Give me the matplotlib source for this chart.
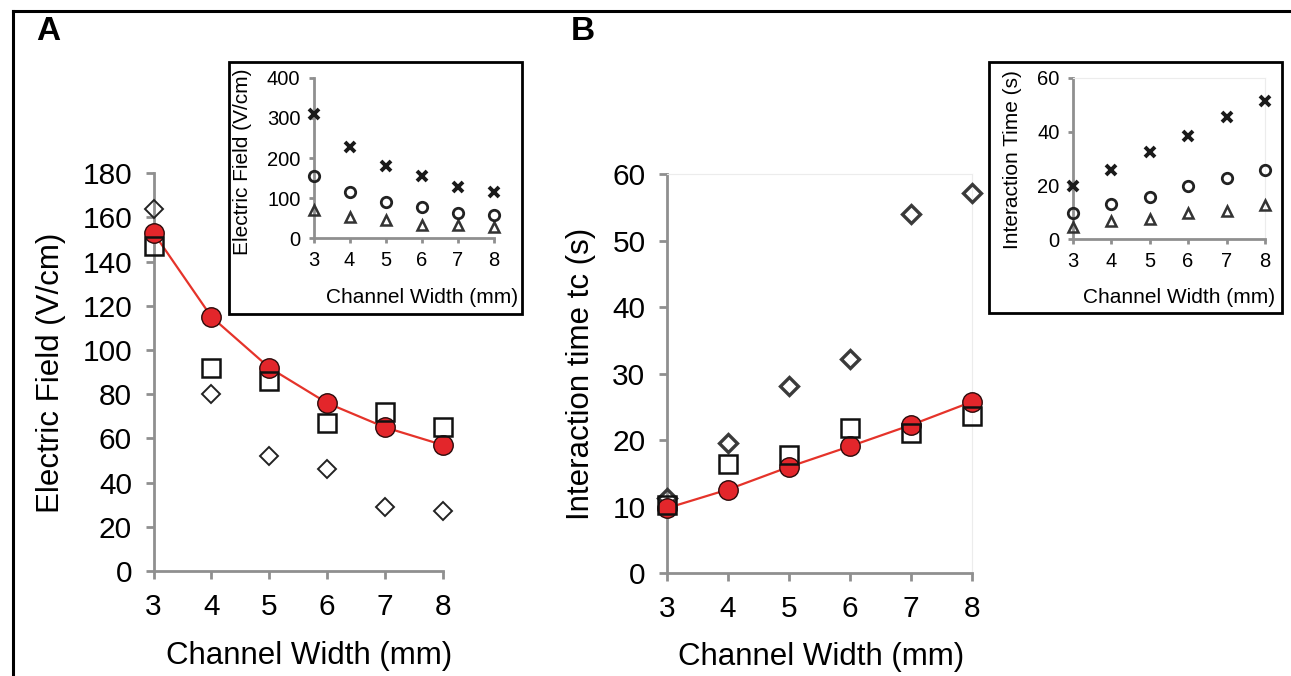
import matplotlib.pyplot as plt
from matplotlib.patches import Rectangle
from matplotlib.lines import Line2D

plt.rcParams['font.family'] = ['Liberation Sans', 'DejaVu Sans']

W, H = 1291, 676

widths = [3, 4, 5, 6, 7, 8]

# A: electric field (V/cm) vs channel width
field_model = [153, 115, 92, 76, 65, 57]
field_square = [147, 92, 86, 67, 72, 65]
field_diamond = [164, 80, 52, 46, 29, 27]

# A inset
field_cross = [309, 228, 181, 155, 127, 116]
field_circle = [155, 116, 90, 77, 64, 58]
field_triangle = [71, 52, 46, 33, 33, 28]

# B: interaction time (s) vs channel width
time_model = [9.8, 12.6, 16.0, 19.1, 22.3, 25.8]
time_square = [10.3, 16.4, 17.8, 21.9, 21.1, 23.6]
time_diamond = [11.3, 19.6, 28.1, 32.3, 54.0, 57.2]

# B inset
time_cross = [19.8, 25.7, 32.5, 38.4, 45.3, 51.5]
time_circle = [9.7, 13.1, 15.8, 19.8, 22.9, 25.7]
time_triangle = [4.5, 6.8, 7.5, 9.7, 10.5, 12.7]

GREY = '#8f8f8f'
RED = '#e3262b'


def fx(x):
    return x / W


def fy(y):
    return 1 - y / H


def axes_px(fig, x0, x1, y_top, y_bot):
    return fig.add_axes([fx(x0), fy(y_bot), fx(x1) - fx(x0), fy(y_top) - fy(y_bot)])


def style(ax, yticks, size, tick_len, pad, faint_frame=False):
    for s in ['top', 'right']:
        if faint_frame:
            ax.spines[s].set_color('#ececec')
            ax.spines[s].set_linewidth(0.8)
        else:
            ax.spines[s].set_visible(False)
    for s in ['left', 'bottom']:
        ax.spines[s].set_color(GREY)
        ax.spines[s].set_linewidth(2)
    ax.set_xlim(3, 8)
    ax.set_xticks(widths)
    ax.set_ylim(yticks[0], yticks[-1])
    ax.set_yticks(yticks)
    ax.tick_params(direction='out', length=tick_len, width=2, color=GREY,
                   labelsize=size, pad=pad, top=False, right=False)
    ax.patch.set_alpha(0)


def main_series(ax, model, square, diamond, dia_edge, dia_mew):
    ax.plot(widths, diamond, 'D', ms=9.5, mfc='none', mec=dia_edge, mew=dia_mew,
            clip_on=False, zorder=3)
    ax.plot(widths, model, '-', color='#e5332a', lw=1.6, clip_on=False, zorder=4)
    ax.plot(widths, model, 'o', ms=14, mfc=RED, mec='#2b0a0a', mew=1,
            clip_on=False, zorder=5)
    ax.plot(widths, square, 's', ms=13.5, mfc='none', mec='#111111', mew=1.8,
            clip_on=False, zorder=6)


def inset_series(ax, cross, circle, triangle):
    ax.plot(widths, triangle, '^', ms=7, mfc='none', mec='#333333', mew=1.8,
            clip_on=False, zorder=3)
    ax.plot(widths, circle, 'o', ms=7.5, mfc='none', mec='#222222', mew=2,
            clip_on=False, zorder=4)
    ax.plot(widths, cross, 'x', ms=7.5, mec='#1a1a1a', mew=2.8,
            clip_on=False, zorder=5)


fig = plt.figure(figsize=(W / 100, H / 100), dpi=100)

# outer frame (top and left edges)
fig.add_artist(Line2D([fx(12.5), fx(1291)], [fy(11), fy(11)], color='k', lw=2.2,
                      transform=fig.transFigure))
fig.add_artist(Line2D([fx(12.5), fx(12.5)], [fy(11), fy(676)], color='k', lw=2.2,
                      transform=fig.transFigure))

# panel A
axA = axes_px(fig, 153.6, 443, 173.3, 571)
style(axA, list(range(0, 181, 20)), 21.5, 5.5, 10)
main_series(axA, field_model, field_square, field_diamond, '#222222', 1.4)
fig.text(fx(51), fy(373), 'Electric Field (V/cm)', fontsize=22.5, rotation=90,
         ha='center', va='center')
fig.text(fx(309), fy(656), 'Channel Width (mm)', fontsize=22.5, ha='center', va='center')
fig.text(fx(48.5), fy(32), 'A', fontsize=24, fontweight='bold', ha='center', va='center')

# panel A inset
fig.add_artist(Rectangle((fx(229), fy(314)), fx(522) - fx(229), fy(62) - fy(314),
                         fill=False, ec='k', lw=2, transform=fig.transFigure))
axA_in = axes_px(fig, 313.6, 493.6, 77.7, 238.3)
style(axA_in, [0, 100, 200, 300, 400], 14.5, 3.5, 6)
inset_series(axA_in, field_cross, field_circle, field_triangle)
fig.text(fx(242), fy(162), 'Electric Field (V/cm)', fontsize=15, rotation=90,
         ha='center', va='center')
fig.text(fx(518), fy(298), 'Channel Width (mm)', fontsize=15, ha='right', va='center')

# panel B
axB = axes_px(fig, 667, 972, 174.3, 573.3)
style(axB, list(range(0, 61, 10)), 21.5, 5.5, 10, faint_frame=True)
main_series(axB, time_model, time_square, time_diamond, '#3a3a3a', 2.4)
fig.text(fx(581), fy(374), 'Interaction time tc (s)', fontsize=22.5, rotation=90,
         ha='center', va='center')
fig.text(fx(821), fy(656.5), 'Channel Width (mm)', fontsize=22.5, ha='center', va='center')
fig.text(fx(583), fy(32), 'B', fontsize=24, fontweight='bold', ha='center', va='center')

# panel B inset
fig.add_artist(Rectangle((fx(989), fy(313)), fx(1282) - fx(989), fy(62) - fy(313),
                         fill=False, ec='k', lw=2, transform=fig.transFigure))
axB_in = axes_px(fig, 1072.8, 1265, 77.7, 239.3)
style(axB_in, [0, 20, 40, 60], 14.5, 3.5, 6, faint_frame=True)
inset_series(axB_in, time_cross, time_circle, time_triangle)
fig.text(fx(1013), fy(160), 'Interaction Time (s)', fontsize=15, rotation=90,
         ha='center', va='center')
fig.text(fx(1275.5), fy(298), 'Channel Width (mm)', fontsize=15, ha='right', va='center')

fig.savefig('out.png', dpi=100)
